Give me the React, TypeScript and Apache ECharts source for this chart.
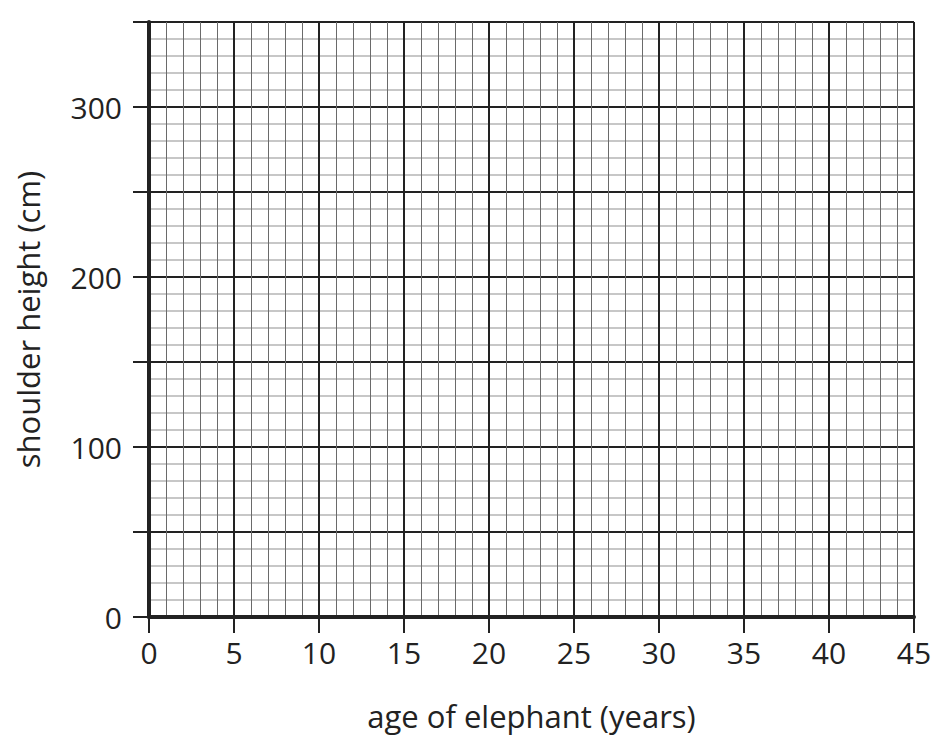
import { useEffect, useRef } from 'react';
import * as echarts from 'echarts';

// ---------------------------------------------------------------------------
// Data: empty graph paper, only the scales
// ---------------------------------------------------------------------------

const xTicks = [0, 5, 10, 15, 20, 25, 30, 35, 40, 45];
const yTicks = [0, 50, 100, 150, 200, 250, 300, 350];
const yTickLabels = [0, 100, 200, 300];
const points: [number, number][] = [];

const INK = '#222222';
const FONT = '"Open Sans", "Noto Sans", sans-serif';

function buildOption(): echarts.EChartsOption {
  const xStep = xTicks[1] - xTicks[0];
  const yStep = yTicks[1] - yTicks[0];
  return {
    animation: false,
    backgroundColor: '#ffffff',
    grid: { left: 149, top: 22, right: 32, bottom: 131, containLabel: false },
    xAxis: {
      type: 'value',
      min: xTicks[0],
      max: xTicks[xTicks.length - 1],
      interval: xStep,
      name: 'age of elephant (years)',
      nameLocation: 'middle',
      nameGap: 83,
      nameTextStyle: { fontFamily: FONT, fontSize: 31, color: INK },
      axisLine: { show: true, onZero: false, lineStyle: { color: INK, width: 4 } },
      axisTick: { show: true, inside: false, length: 16, lineStyle: { color: INK, width: 2 } },
      axisLabel: { fontFamily: FONT, fontSize: 30, color: INK, margin: 20, showMinLabel: true, showMaxLabel: true },
      splitLine: { show: true, lineStyle: { color: INK, width: 2 } },
      minorTick: { show: false, splitNumber: 5 },
      minorSplitLine: { show: true, lineStyle: { color: '#6a6a6a', width: 1 } },
    },
    yAxis: {
      type: 'value',
      min: yTicks[0],
      max: yTicks[yTicks.length - 1],
      interval: yStep,
      name: 'shoulder height (cm)',
      nameLocation: 'middle',
      nameGap: 106,
      nameTextStyle: { fontFamily: FONT, fontSize: 31, color: INK },
      axisLine: { show: true, onZero: false, lineStyle: { color: INK, width: 4 } },
      axisTick: { show: true, inside: false, length: 16, lineStyle: { color: INK, width: 2 } },
      axisLabel: {
        fontFamily: FONT,
        fontSize: 30,
        color: INK,
        margin: 27,
        formatter: (v: number) => (yTickLabels.includes(v) ? String(v) : ''),
      },
      splitLine: { show: true, lineStyle: { color: INK, width: 2 } },
      minorTick: { show: false, splitNumber: 5 },
      minorSplitLine: { show: true, lineStyle: { color: '#b4b4b4', width: 1.5 } },
    },
    series: [
      {
        type: 'scatter',
        data: points,
        symbolSize: 8,
        itemStyle: { color: INK },
      },
    ],
  };
}

export default function App() {
  const containerRef = useRef<HTMLDivElement | null>(null);

  useEffect(() => {
    if (!containerRef.current) return;
    const chart = echarts.init(containerRef.current, undefined, { renderer: 'svg' });
    chart.setOption(buildOption());
    return () => chart.dispose();
  }, []);

  return (
    <div
      ref={containerRef}
      style={{ position: 'absolute', left: 0, top: 0, width: 946, height: 748 }}
    />
  );
}
